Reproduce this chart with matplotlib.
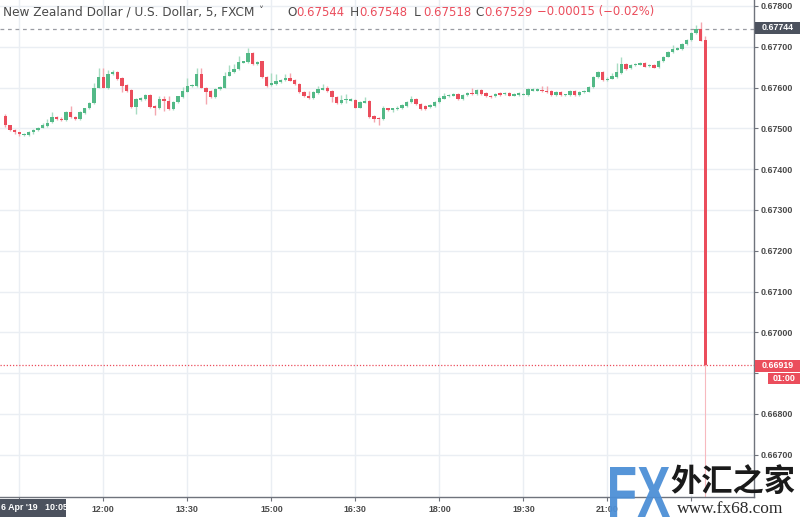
import numpy as np
import matplotlib
matplotlib.use("Agg")
import matplotlib.pyplot as plt
from matplotlib.textpath import TextPath
from matplotlib.patches import PathPatch, Rectangle
from matplotlib.font_manager import FontProperties
from matplotlib.transforms import Affine2D

# ---------------- data (NZD/USD, 5 min, FXCM) ----------------
opens = [0.67530, 0.67507, 0.67496, 0.67490, 0.67484, 0.67484, 0.67490, 0.67496, 0.67501, 0.67506,
         0.67516, 0.67528, 0.67524, 0.67520, 0.67539, 0.67528, 0.67522, 0.67538, 0.67549, 0.67561,
         0.67600, 0.67625, 0.67600, 0.67633, 0.67639, 0.67623, 0.67606, 0.67594, 0.67553, 0.67570,
         0.67571, 0.67582, 0.67555, 0.67549, 0.67572, 0.67567, 0.67547, 0.67564, 0.67577, 0.67590,
         0.67603, 0.67604, 0.67632, 0.67600, 0.67592, 0.67576, 0.67596, 0.67600, 0.67629, 0.67637,
         0.67645, 0.67661, 0.67662, 0.67684, 0.67658, 0.67664, 0.67625, 0.67606, 0.67609, 0.67614,
         0.67618, 0.67624, 0.67618, 0.67609, 0.67590, 0.67580, 0.67574, 0.67587, 0.67595, 0.67600,
         0.67592, 0.67576, 0.67561, 0.67569, 0.67568, 0.67569, 0.67550, 0.67563, 0.67567, 0.67530,
         0.67526, 0.67522, 0.67549, 0.67545, 0.67547, 0.67549, 0.67555, 0.67564, 0.67571, 0.67559,
         0.67555, 0.67553, 0.67555, 0.67564, 0.67573, 0.67578, 0.67579, 0.67583, 0.67571, 0.67582,
         0.67587, 0.67583, 0.67594, 0.67586, 0.67579, 0.67578, 0.67586, 0.67583, 0.67586, 0.67579,
         0.67582, 0.67582, 0.67582, 0.67592, 0.67592, 0.67594, 0.67592, 0.67592, 0.67581, 0.67590,
         0.67581, 0.67581, 0.67592, 0.67581, 0.67589, 0.67590, 0.67602, 0.67625, 0.67639, 0.67618,
         0.67622, 0.67626, 0.67636, 0.67658, 0.67647, 0.67654, 0.67656, 0.67659, 0.67652, 0.67656,
         0.67650, 0.67665, 0.67676, 0.67687, 0.67693, 0.67694, 0.67706, 0.67716, 0.67733, 0.67744,
         0.67716]
highs = [0.67534, 0.67509, 0.67498, 0.67492, 0.67488, 0.67493, 0.67498, 0.67504, 0.67512, 0.67522,
         0.67540, 0.67530, 0.67527, 0.67542, 0.67555, 0.67531, 0.67542, 0.67551, 0.67564, 0.67612,
         0.67647, 0.67649, 0.67643, 0.67642, 0.67641, 0.67625, 0.67609, 0.67596, 0.67574, 0.67576,
         0.67584, 0.67584, 0.67557, 0.67579, 0.67580, 0.67578, 0.67568, 0.67580, 0.67602, 0.67624,
         0.67609, 0.67649, 0.67647, 0.67602, 0.67594, 0.67598, 0.67604, 0.67639, 0.67655, 0.67657,
         0.67678, 0.67666, 0.67696, 0.67686, 0.67666, 0.67666, 0.67627, 0.67635, 0.67633, 0.67621,
         0.67632, 0.67635, 0.67621, 0.67611, 0.67592, 0.67592, 0.67591, 0.67604, 0.67609, 0.67603,
         0.67595, 0.67578, 0.67582, 0.67583, 0.67574, 0.67571, 0.67566, 0.67577, 0.67569, 0.67533,
         0.67528, 0.67555, 0.67551, 0.67551, 0.67554, 0.67560, 0.67568, 0.67578, 0.67574, 0.67561,
         0.67557, 0.67560, 0.67568, 0.67578, 0.67587, 0.67584, 0.67586, 0.67587, 0.67584, 0.67590,
         0.67598, 0.67596, 0.67596, 0.67588, 0.67581, 0.67587, 0.67588, 0.67590, 0.67588, 0.67586,
         0.67588, 0.67587, 0.67598, 0.67598, 0.67598, 0.67604, 0.67604, 0.67595, 0.67592, 0.67592,
         0.67585, 0.67595, 0.67595, 0.67591, 0.67595, 0.67604, 0.67627, 0.67641, 0.67640, 0.67625,
         0.67635, 0.67659, 0.67674, 0.67660, 0.67658, 0.67660, 0.67662, 0.67662, 0.67658, 0.67658,
         0.67668, 0.67678, 0.67690, 0.67704, 0.67700, 0.67709, 0.67719, 0.67737, 0.67753, 0.67760,
         0.67726]
lows = [0.67504, 0.67493, 0.67486, 0.67481, 0.67480, 0.67481, 0.67487, 0.67493, 0.67500, 0.67504,
        0.67514, 0.67520, 0.67517, 0.67518, 0.67526, 0.67520, 0.67520, 0.67536, 0.67547, 0.67560,
        0.67599, 0.67598, 0.67596, 0.67631, 0.67618, 0.67588, 0.67590, 0.67551, 0.67534, 0.67568,
        0.67569, 0.67551, 0.67533, 0.67547, 0.67542, 0.67545, 0.67545, 0.67562, 0.67575, 0.67588,
        0.67601, 0.67602, 0.67599, 0.67560, 0.67574, 0.67574, 0.67594, 0.67599, 0.67627, 0.67636,
        0.67643, 0.67659, 0.67660, 0.67655, 0.67655, 0.67623, 0.67602, 0.67604, 0.67606, 0.67612,
        0.67616, 0.67615, 0.67606, 0.67587, 0.67576, 0.67572, 0.67572, 0.67585, 0.67593, 0.67590,
        0.67565, 0.67560, 0.67560, 0.67561, 0.67566, 0.67549, 0.67549, 0.67561, 0.67526, 0.67516,
        0.67508, 0.67520, 0.67542, 0.67541, 0.67545, 0.67547, 0.67553, 0.67562, 0.67557, 0.67546,
        0.67546, 0.67551, 0.67553, 0.67562, 0.67572, 0.67576, 0.67578, 0.67569, 0.67569, 0.67580,
        0.67582, 0.67582, 0.67582, 0.67576, 0.67575, 0.67576, 0.67580, 0.67582, 0.67578, 0.67578,
        0.67580, 0.67581, 0.67580, 0.67591, 0.67591, 0.67589, 0.67587, 0.67580, 0.67580, 0.67580,
        0.67579, 0.67579, 0.67579, 0.67579, 0.67587, 0.67589, 0.67600, 0.67623, 0.67616, 0.67616,
        0.67620, 0.67624, 0.67634, 0.67644, 0.67645, 0.67653, 0.67654, 0.67650, 0.67650, 0.67647,
        0.67648, 0.67663, 0.67674, 0.67685, 0.67691, 0.67692, 0.67704, 0.67715, 0.67731, 0.67713,
        0.66917]
closes = [0.67507, 0.67496, 0.67490, 0.67485, 0.67486, 0.67491, 0.67496, 0.67501, 0.67508, 0.67514,
          0.67528, 0.67523, 0.67520, 0.67539, 0.67528, 0.67522, 0.67539, 0.67549, 0.67561, 0.67600,
          0.67625, 0.67600, 0.67632, 0.67639, 0.67620, 0.67604, 0.67592, 0.67553, 0.67572, 0.67574,
          0.67582, 0.67553, 0.67549, 0.67572, 0.67567, 0.67547, 0.67565, 0.67578, 0.67592, 0.67604,
          0.67606, 0.67632, 0.67600, 0.67590, 0.67576, 0.67596, 0.67602, 0.67629, 0.67637, 0.67645,
          0.67662, 0.67663, 0.67684, 0.67658, 0.67663, 0.67626, 0.67604, 0.67612, 0.67617, 0.67618,
          0.67624, 0.67617, 0.67608, 0.67588, 0.67578, 0.67574, 0.67588, 0.67596, 0.67600, 0.67592,
          0.67576, 0.67561, 0.67569, 0.67571, 0.67571, 0.67550, 0.67564, 0.67567, 0.67528, 0.67524,
          0.67522, 0.67549, 0.67544, 0.67549, 0.67551, 0.67557, 0.67565, 0.67571, 0.67559, 0.67547,
          0.67547, 0.67557, 0.67565, 0.67575, 0.67580, 0.67582, 0.67583, 0.67571, 0.67582, 0.67587,
          0.67583, 0.67594, 0.67583, 0.67578, 0.67577, 0.67585, 0.67582, 0.67587, 0.67579, 0.67583,
          0.67586, 0.67585, 0.67596, 0.67596, 0.67596, 0.67591, 0.67589, 0.67581, 0.67590, 0.67581,
          0.67582, 0.67592, 0.67581, 0.67589, 0.67592, 0.67602, 0.67625, 0.67639, 0.67618, 0.67622,
          0.67627, 0.67637, 0.67658, 0.67646, 0.67655, 0.67658, 0.67659, 0.67651, 0.67656, 0.67649,
          0.67666, 0.67676, 0.67688, 0.67694, 0.67698, 0.67707, 0.67716, 0.67734, 0.67744, 0.67715,
          0.66919]

first_bar_time = "10:15"
bar_minutes = 5
time_labels = ["10:30", "12:00", "13:30", "15:00", "16:30", "18:00", "19:30", "21:00", "22:30"]
shown_time_labels = ["12:00", "13:30", "15:00", "16:30", "18:00", "19:30", "21:00"]
price_ticks = [0.667, 0.668, 0.669, 0.670, 0.671, 0.672, 0.673, 0.674, 0.675, 0.676, 0.677, 0.678]
hidden_price_labels = [0.669]   # covered by the last-price tag
high_line = 0.67744
header_title = "New Zealand Dollar / U.S. Dollar, 5, FXCM"
header_ohlc = [("O", "0.67544"), ("H", "0.67548"), ("L", "0.67518"), ("C", "0.67529")]
header_change = "\u22120.00015 (\u22120.02%)"
crosshair_label = "6 Apr '19   10:05"
countdown = "01:00"

# ---------------- styling ----------------
UP = "#53b987"
DOWN = "#eb4d5c"
UP_WICK = "#a8dcc2"
DOWN_WICK = "#f4a7af"
GRID = "#eaeef3"
AXIS = "#6f737c"
TXT = "#4a4a4a"
FONT = "Liberation Sans"
HFS = 8.7
VFS = 8.4

W, H = 800, 519
fig = plt.figure(figsize=(W / 100, H / 100), dpi=100)
fig.patch.set_facecolor("white")


def fx(px):
    return px / W


def fy(py):
    return 1 - py / H


ax = fig.add_axes([0, fy(497), fx(754), 497 / H])
ax.set_facecolor("white")

o = np.array(opens)
h = np.array(highs)
l = np.array(lows)
c = np.array(closes)
x = np.arange(len(o))
up = c >= o

ax.vlines(x, l, h, colors=np.where(up, UP_WICK, DOWN_WICK), linewidth=1.0, zorder=3)
body = np.maximum(np.abs(c - o), 0.00003)
ax.bar(x, body, bottom=np.minimum(o, c), width=0.72,
       color=np.where(up, UP, DOWN), linewidth=0, zorder=4)


def tmin(s):
    hh, mm = s.split(":")
    return int(hh) * 60 + int(mm)


t0 = tmin(first_bar_time)
tick_pos = [(tmin(t) - t0) / bar_minutes for t in time_labels]
ax.set_xticks(tick_pos)
ax.set_xticklabels([t if t in shown_time_labels else "" for t in time_labels])
ax.set_xlim(-1.14, 160.4)
ax.set_ylim(0.665963, 0.678145)
ax.set_yticks(price_ticks)
ax.set_yticklabels(["" if p in hidden_price_labels else "%.5f" % p for p in price_ticks])
ax.yaxis.tick_right()
ax.grid(True, color=GRID, linewidth=1.0, zorder=0)
ax.set_axisbelow(True)

for side in ["top", "left"]:
    ax.spines[side].set_visible(False)
for side in ["right", "bottom"]:
    ax.spines[side].set_color(AXIS)
    ax.spines[side].set_linewidth(1.0)

ax.tick_params(axis="y", length=3, width=0.8, color=AXIS, pad=2,
               labelsize=6.4, labelcolor=TXT)
ax.tick_params(axis="x", length=3, width=0.8, color=AXIS, pad=2.5,
               labelsize=6.4, labelcolor=TXT)
for lab in ax.get_xticklabels() + ax.get_yticklabels():
    lab.set_fontfamily(FONT)
    lab.set_fontweight("bold")


def axis_tag(y_px0, y_px1, x_px0, text, fc):
    fig.patches.append(Rectangle((fx(x_px0), fy(y_px1)), fx(800 - x_px0), (y_px1 - y_px0) / H,
                                 transform=fig.transFigure, facecolor=fc, edgecolor="none",
                                 zorder=9))
    fig.text(fx((x_px0 + 800) / 2), fy((y_px0 + y_px1) / 2), text, ha="center", va="center",
             fontsize=6.4, fontfamily=FONT, fontweight="bold", color="white", zorder=10)


# high dashed line + tag
ax.axhline(high_line, color="#9a9ca3", linewidth=0.9, dashes=(3, 3), zorder=2)
axis_tag(22, 34, 755, "%.5f" % high_line, "#4c525e")

# last price dotted line + tags
last = closes[-1]
ax.axhline(last, color=DOWN, linewidth=0.9, dashes=(1, 1.5), zorder=2)
ax.vlines([x[-1]], 0.665963, l[-1], colors="#f7b9bf", linewidth=0.8, zorder=2)
axis_tag(360, 372, 755, "%.5f" % last, DOWN)
axis_tag(373, 384, 768, countdown, DOWN)

# crosshair date label at bottom left
fig.patches.append(Rectangle((0, fy(517)), fx(66), 18 / H, transform=fig.transFigure,
                             facecolor="#4c525e", edgecolor="none", zorder=9))
fig.text(fx(1), fy(508), crosshair_label, ha="left", va="center", fontsize=6.4,
         fontfamily=FONT, fontweight="bold", color="white", zorder=10)

# header legend
fig.text(fx(3), fy(12), header_title, ha="left", va="center", fontsize=HFS,
         fontfamily="DejaVu Sans", color=TXT, zorder=10)
fig.text(fx(258.5), fy(10.5), "\u02c5", ha="left", va="center", fontsize=7,
         fontfamily="DejaVu Sans", color=TXT, zorder=10)
letter_x = [287, 350, 414, 475]
for (lt, val), lx in zip(header_ohlc, letter_x):
    fig.text(fx(lx), fy(12), lt, ha="left", va="center", fontsize=HFS,
             fontfamily="DejaVu Sans", color=TXT, zorder=10)
    fig.text(fx(lx + 9.5), fy(12), val, ha="left", va="center", fontsize=VFS,
             fontfamily="DejaVu Sans", color=DOWN, zorder=10)
fig.text(fx(537), fy(12), header_change, ha="left", va="center", fontsize=VFS,
         fontfamily="DejaVu Sans", color=DOWN, zorder=10)

# watermark
fp = FontProperties(family="Liberation Sans", weight="bold")
tp = TextPath((0, 0), "FX", size=1, prop=fp)
bb = tp.get_extents()
tr = (Affine2D().translate(-bb.x0, -bb.y0)
      .scale(60 / bb.width, 50 / bb.height)
      .translate(610, H - 517)
      .scale(1 / W, 1 / H)) + fig.transFigure
fig.patches.append(PathPatch(tp, transform=tr, facecolor="#4d8fd6", edgecolor="none",
                             alpha=0.95, zorder=11))
fig.text(fx(670), fy(482), "外汇之家", ha="left", va="center", fontsize=22.5,
         fontfamily=["Noto Sans CJK SC", "DejaVu Sans"], fontweight="bold",
         color="#1a1a1a", zorder=11)
fig.text(fx(677), fy(509), "www.fx68.com", ha="left", va="center", fontsize=12.5,
         fontfamily="Liberation Serif", color="#2a2a2a", zorder=11)

fig.savefig("out.png", dpi=100, facecolor="white")
